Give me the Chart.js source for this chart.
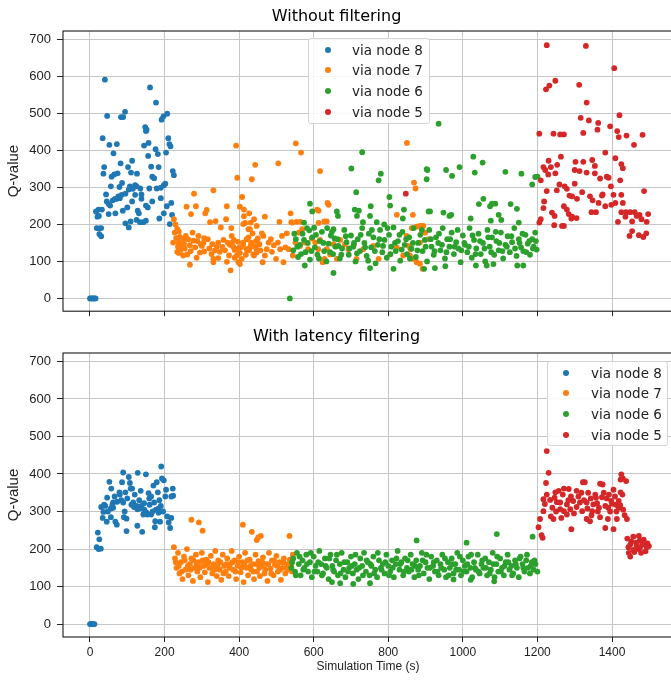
<!DOCTYPE html>
<html>
<head>
<meta charset="utf-8">
<script src="https://cdn.jsdelivr.net/npm/chart.js@4.4.0/dist/chart.umd.min.js"></script>
<style>
    body {margin: 0; width: 671px; height: 681px; overflow: hidden; background: #fff; position: relative;}
    canvas {position: absolute; left: 0;}
    #graficoSinFiltro {top: 0;}
    #graficoConFiltro {top: 325px;}
    .leyenda {position: absolute; background: rgba(255,255,255,0.85); border: 1px solid #d4d4d4; border-radius: 3px;
        font-family: "DejaVu Sans", sans-serif; font-size: 13.5px; color: #222; box-sizing: border-box;}
    .leyenda div {position: absolute; white-space: nowrap; line-height: 16px; height: 16px;}
    .leyenda span {position: absolute; top: 5px; width: 6px; height: 6px; border-radius: 50%;}
</style>
</head>
<body>
<canvas id="graficoSinFiltro" width="680" height="325"></canvas>
<canvas id="graficoConFiltro" width="680" height="356"></canvas>
<div class="leyenda" id="leyendaArriba" style="left:308px; top:38px; width:122px; height:86px;"></div>
<div class="leyenda" id="leyendaAbajo" style="left:547px; top:361px; width:121px; height:85px;"></div>
<script>
const etiquetas = ["via node 8", "via node 7", "via node 6", "via node 5"];
const colores = ["#1f77b4", "#ff7f0e", "#2ca02c", "#d62728"];
const xTicks = [0, 200, 400, 600, 800, 1000, 1200, 1400];
const yTicks = [0, 100, 200, 300, 400, 500, 600, 700];

// Without filtering: [time, Q-value]
const top8 = [[0,0],[3,0],[6,0],[9,0],[12,0],[15,0],[16,235],[18,190],[20,221],[23,240],[24,223],[25,189],[25,174],[30,190],[30,168],[32,240],[34,433],[36,337],[38,355],[40,591],[43,281],[45,262],[46,493],[50,255],[50,228],[52,415],[54,251],[56,303],[58,329],[61,265],[63,392],[65,335],[67,269],[68,230],[72,417],[72,269],[74,338],[76,276],[79,301],[80,271],[82,365],[83,490],[85,280],[86,312],[88,237],[89,490],[94,504],[95,283],[95,203],[100,246],[102,355],[104,294],[104,192],[107,303],[109,208],[110,340],[113,372],[113,262],[115,296],[121,306],[121,280],[125,303],[125,212],[126,337],[128,237],[131,230],[134,206],[135,297],[138,281],[138,269],[143,206],[145,413],[148,463],[150,452],[150,251],[150,210],[152,456],[155,246],[156,385],[157,420],[159,297],[161,570],[164,356],[167,329],[167,262],[172,325],[176,403],[177,529],[179,297],[182,390],[184,355],[186,216],[190,299],[190,271],[192,483],[197,492],[198,306],[198,230],[202,310],[204,394],[206,249],[207,499],[210,433],[213,417],[214,201],[216,411],[218,258],[220,226],[222,344],[225,333]];

const top7 = [[225,214],[229,200],[234,188],[238,181],[231,163],[241,166],[238,151],[250,160],[257,169],[245,142],[234,126],[254,135],[261,119],[268,144],[277,156],[275,178],[259,248],[271,228],[279,283],[284,249],[291,169],[297,147],[306,163],[309,230],[313,239],[320,135],[322,206],[328,147],[331,292],[335,130],[337,209],[344,151],[351,192],[355,139],[362,130],[367,249],[369,151],[373,116],[365,214],[379,190],[380,169],[384,140],[388,110],[393,133],[397,153],[398,98],[402,123],[407,107],[411,146],[413,222],[416,204],[420,160],[425,187],[427,130],[432,151],[436,176],[440,116],[443,140],[447,124],[450,162],[454,146],[268,91],[286,110],[331,98],[344,109],[367,99],[377,76],[402,93],[331,107],[306,127],[250,116],[238,123],[223,151],[227,178],
    [236,140],[243,131],[252,148],[263,160],[270,128],[282,138],[288,155],[295,124],[300,142],[304,150],[316,160],[326,120],[340,140],[348,126],[358,158],[375,145],[386,158],[405,138],[418,118],[430,140],[445,155],[457,130],
    [392,413],[395,326],[408,274],[402,248],[413,240],[434,322],[443,361],[505,365],[552,419],[566,394],[617,344],[637,258],[640,253],[613,237],[538,230],[469,221],[508,207],[427,230],[440,214],[431,205],[411,201],[628,208],[564,207],[554,207],[543,205],[850,420],[823,226],[866,226],[869,313],[873,297],[863,190],[876,194],[885,196],[894,196],[855,142],[866,107],[876,98],[892,80],[858,116],
    [381,151],[388,131],[394,116],[400,137],[411,151],[420,133],[425,165],[432,144],[438,119],[447,133],[454,147],[461,176],[463,98],[469,116],[474,133],[479,151],[485,160],[488,126],[493,144],[499,107],[504,151],[510,133],[515,169],[519,98],[524,138],[528,176],[533,133],[540,206],[544,116],[551,151],[560,178],[563,142],[569,187],[576,151],[585,133],[595,162],[604,151],[612,133],[617,158],[624,98],[629,107],[635,133],[644,119],[653,147],[662,107],[671,158],[684,146],[693,133],[708,146],[715,107],[733,133],[760,142],[774,107],[805,119],[823,137],[840,116],[849,169],[860,133],[872,107],[885,151],[899,178],[908,160],[609,240],[613,204],[635,208],[465,169],[429,187],[447,196],[887,196],[885,94]];

const top6 = [[536,0],[590,256],[596,235],[574,205],[588,184],[601,191],[662,235],[665,223],[653,187],[649,180],[701,351],[714,287],[730,395],[774,319],[780,337],[710,240],[721,237],[753,249],[716,223],[732,206],[751,223],[769,206],[789,200],[803,274],[805,251],[842,240],[839,216],[903,349],[903,322],[908,235],[814,80],[751,82],[653,69],[576,89],[935,472],[905,347],[955,347],[971,331],[991,355],[1028,383],[1053,367],[1032,340],[1114,342],[1157,337],[1186,308],[1194,328],[1200,329],[1055,269],[1043,255],[1073,249],[1078,256],[1087,256],[1128,255],[1145,242],[912,235],[948,232],[964,223],[969,226],[1021,216],[1075,210],[1096,226],[1103,212],[1150,205],[925,82],[953,87],[896,80],[1035,89],[1064,89],[1082,93],[1146,89],[1162,89],
    [545,130],[552,160],[558,112],[563,145],[570,175],[578,125],[584,150],[590,105],[596,165],[603,138],[610,118],[616,155],[622,180],[628,128],[634,100],[640,148],[646,170],[652,120],[658,140],[664,160],[670,108],[676,135],[682,185],[688,152],[694,118],[700,170],[706,140],[712,100],[718,160],[724,128],[730,190],[736,150],[742,115],[748,175],[754,138],[760,165],[766,95],[772,145],[778,185],[784,125],[790,158],[796,110],[802,172],[808,140],[814,192],[820,128],[826,155],[832,102],[838,180],[844,145],[850,120],[856,165],[862,135],[868,190],[874,112],[880,150],[886,172],[892,128],[898,158],[904,100],[910,185],[916,140],[922,118],[928,165],[934,150],[940,130],[946,190],[952,108],[958,160],[964,140],[970,178],[976,120],[982,152],[988,135],[994,98],[1000,170],[1006,145],[1012,125],[1018,190],[1024,110],[1030,158],[1036,135],[1042,175],[1048,120],[1054,150],[1060,100],[1066,185],[1072,140],[1078,165],[1084,118],[1090,155],[1096,130],[1102,178],[1108,108],[1114,145],[1120,168],[1126,125],[1132,152],[1138,190],[1144,115],[1150,160],[1156,138],[1162,128],[1168,172],[1174,148],[1180,118],[1186,160],[1190,140],[1194,178],[1198,132],
    [548,175],[556,140],[566,120],[574,158],[582,190],[594,128],[606,172],[614,108],[626,150],[636,190],[644,125],[656,162],[666,142],[674,118],[686,168],[696,135],[708,150],[716,122],[726,172],[738,138],[746,102],[756,185],[764,128],[776,160],[786,142],[798,190],[806,120],[818,150],[830,172],[836,132],[848,160],[858,108],[866,150],[878,130],[890,185],[900,140],[914,160],[924,128],[936,175],[944,145],[956,125],[966,160],[978,140],[986,185],[996,130],[1004,150],[1016,140],[1026,170],[1034,120],[1046,155],[1058,135],[1068,165],[1076,125],[1088,180],[1098,150],[1106,128],[1118,140],[1130,168],[1140,135],[1152,150],[1160,175],[1170,125],[1178,155],[1188,135],[1196,155]];

const top5 = [[847,283],[1225,684],[1330,682],[1406,622],[1223,565],[1232,575],[1248,588],[1312,577],[1332,529],[1316,488],[1338,481],[1363,474],[1361,456],[1395,465],[1420,495],[1205,445],[1243,445],[1261,443],[1271,443],[1323,447],[1414,452],[1418,436],[1439,440],[1482,442],[1459,415],[1263,383],[1230,372],[1216,355],[1221,347],[1209,319],[1236,355],[1253,361],[1248,338],[1229,335],[1302,369],[1323,369],[1347,374],[1354,358],[1382,394],[1409,379],[1425,363],[1429,352],[1300,347],[1313,344],[1332,340],[1354,338],[1368,324],[1386,329],[1391,326],[1422,319],[1397,303],[1259,308],[1273,303],[1300,310],[1320,287],[1341,276],[1375,281],[1404,280],[1425,280],[1486,290],[1225,290],[1252,292],[1279,296],[1286,278],[1293,276],[1306,269],[1348,265],[1373,278],[1398,253],[1218,262],[1216,244],[1209,214],[1205,205],[1239,232],[1246,223],[1271,249],[1279,240],[1305,217],[1293,221],[1284,228],[1345,233],[1357,233],[1364,258],[1382,249],[1409,258],[1429,258],[1416,207],[1425,233],[1438,233],[1449,233],[1461,233],[1466,223],[1474,226],[1479,214],[1497,228],[1493,207],[1454,208],[1436,221],[1447,169],[1454,182],[1472,171],[1484,166],[1492,176],[1245,198],[1266,196],[1271,196],[1291,216]];

// With latency filtering: [time, Q-value]
const bot8 = [[0,0],[3,0],[6,0],[9,0],[12,0],[18,205],[21,244],[23,200],[25,226],[29,201],[30,312],[34,283],[36,299],[41,315],[45,273],[46,337],[52,379],[56,308],[56,285],[57,361],[62,310],[62,324],[68,273],[72,265],[73,326],[79,351],[80,345],[86,378],[89,404],[89,324],[91,285],[95,351],[98,281],[98,248],[104,392],[107,376],[109,361],[113,361],[116,324],[118,312],[125,315],[127,306],[127,262],[128,403],[134,308],[136,355],[138,315],[140,246],[143,292],[145,322],[150,399],[152,297],[154,292],[157,349],[159,335],[164,292],[164,340],[170,369],[172,324],[174,258],[175,274],[177,305],[179,378],[182,351],[184,308],[184,297],[188,273],[190,315],[191,420],[193,388],[198,383],[204,358],[207,287],[211,271],[215,256],[218,340],[218,283],[222,361],[223,342],
    [38,318],[48,300],[60,318],[66,340],[84,330],[93,300],[100,335],[111,318],[120,345],[132,330],[146,305],[160,318],[168,300],[186,330],[196,300],[202,340]];

const bot7 = [[272,278],[292,271],[302,249],[410,265],[434,246],[451,231],[447,224],[458,235],[535,235],
    [225,205],[228,175],[232,150],[236,190],[240,135],[244,165],[248,120],[252,180],[256,145],[260,200],[264,130],[268,160],[272,175],[276,115],[280,150],[284,185],[288,140],[292,165],[296,125],[300,190],[304,155],[308,138],[312,172],[316,112],[320,150],[324,182],[328,135],[332,160],[336,195],[340,128],[344,170],[348,145],[352,118],[356,185],[360,155],[364,140],[368,175],[372,128],[376,160],[380,195],[384,145],[388,170],[392,120],[396,155],[400,180],[404,138],[408,165],[412,112],[416,190],[420,150],[424,130],[428,172],[432,145],[436,160],[440,120],[444,185],[448,140],[452,168],[456,128],[460,155],[464,178],[468,135],[472,160],[476,115],[480,190],[484,148],[488,170],[492,130],[496,158],[500,182],[504,140],[508,165],[512,118],[516,150],[520,175],[524,135],[528,160],[532,145],[536,172],[540,155],[544,185],
    [230,165],[238,155],[246,140],[254,170],[262,155],[270,145],[278,170],[286,160],[294,150],[302,170],[310,158],[318,165],[326,150],[334,145],[342,155],[350,165],[358,135],[366,160],[374,150],[382,165],[390,140],[398,165],[406,150],[414,160],[422,170],[430,155],[438,140],[446,160],[454,150],[462,165],[470,145],[478,160],[486,135],[494,170],[502,155],[510,145],[518,165],[526,150],[534,160],[542,140]];

const bot6 = [[876,223],[1091,240],[1187,233],[1010,217],[706,107],[751,109],[1084,114],[1021,118],[975,119],[649,112],[671,109],
    [540,150],[545,175],[550,140],[555,190],[560,160],[565,130],[570,170],[575,150],[580,185],[585,140],[590,165],[595,125],[600,180],[605,155],[610,140],[615,195],[620,160],[625,135],[630,175],[635,150],[640,120],[645,185],[650,155],[655,140],[660,170],[665,130],[670,160],[675,190],[680,145],[685,125],[690,165],[695,150],[700,180],[705,135],[710,160],[715,145],[720,120],[725,175],[730,155],[735,190],[740,140],[745,165],[750,130],[755,155],[760,180],[765,145],[770,125],[775,170],[780,150],[785,160],[790,135],[795,185],[800,155],[805,140],[810,170],[815,125],[820,160],[825,195],[830,145],[835,165],[840,130],[845,175],[850,150],[855,140],[860,185],[865,160],[870,125],[875,170],[880,145],[885,155],[890,190],[895,135],[900,165],[905,150],[910,120],[915,180],[920,155],[925,140],[930,170],[935,130],[940,160],[945,185],[950,145],[955,125],[960,165],[965,150],[970,175],[975,135],[980,160],[985,190],[990,145],[995,130],[1000,170],[1005,155],[1010,140],[1015,180],[1020,150],[1025,125],[1030,165],[1035,145],[1040,185],[1045,135],[1050,160],[1055,150],[1060,175],[1065,130],[1070,165],[1075,145],[1080,190],[1085,125],[1090,160],[1095,140],[1100,175],[1105,150],[1110,130],[1115,165],[1120,185],[1125,145],[1130,155],[1135,135],[1140,170],[1145,150],[1150,125],[1155,180],[1160,160],[1165,140],[1170,170],[1175,150],[1180,135],[1185,165],[1190,145],[1195,160],[1200,140],
    [542,165],[552,130],[562,180],[572,145],[582,160],[592,190],[602,140],[612,165],[622,130],[632,155],[642,175],[652,145],[662,185],[672,135],[682,165],[692,140],[702,155],[712,185],[722,150],[732,130],[742,170],[752,160],[762,135],[772,190],[782,145],[792,165],[802,130],[812,150],[822,175],[832,160],[842,140],[852,170],[862,145],[872,155],[882,130],[892,170],[902,185],[912,150],[922,165],[932,140],[942,150],[952,175],[962,130],[972,160],[982,145],[992,180],[1002,140],[1012,160],[1022,185],[1032,150],[1042,140],[1052,170],[1062,150],[1072,135],[1082,160],[1092,180],[1102,140],[1112,155],[1122,165],[1132,130],[1142,160],[1152,175],[1162,150],[1172,185],[1182,155],[1192,170]];

const bot5 = [[1225,461],[1230,403],[1223,376],[1425,399],[1429,388],[1438,381],[1423,385],[1322,378],[1327,378],[1368,374],[1375,372],[1404,358],[1423,351],[1305,355],[1284,360],[1271,361],[1257,355],[1248,351],[1225,345],[1216,333],[1234,331],[1246,337],[1261,324],[1279,319],[1296,328],[1314,324],[1332,324],[1343,335],[1357,337],[1373,338],[1386,335],[1398,328],[1418,328],[1350,319],[1365,310],[1382,315],[1400,321],[1418,310],[1422,317],[1261,306],[1271,301],[1288,306],[1305,312],[1320,301],[1334,308],[1347,301],[1216,301],[1207,280],[1203,258],[1211,237],[1214,230],[1236,287],[1243,280],[1264,283],[1279,292],[1291,253],[1332,280],[1341,274],[1368,285],[1382,256],[1389,280],[1404,253],[1413,280],[1434,290],[1440,280],
    [1220,320],[1240,310],[1250,300],[1268,345],[1290,340],[1298,295],[1310,340],[1318,350],[1336,350],[1345,290],[1355,345],[1362,300],[1378,350],[1392,345],[1395,300],[1408,340],[1412,300],[1428,345],[1430,305],[1252,325],[1283,330],[1325,330],[1360,322],[1390,310],[1410,318],
    [1441,228],[1457,233],[1472,235],[1475,223],[1449,212],[1466,209],[1486,217],[1493,205],[1445,190],[1457,198],[1475,203],[1490,194],[1449,180],[1499,208],[1465,217],[1481,212],[1452,220],[1470,200],[1485,225],[1460,192],[1478,190],[1495,215],[1444,205]];

const familia = "'Liberation Sans', Arial, sans-serif";
const fuente = {family: familia, size: 12};

// Frame around the plotting area (matplotlib spines)
const marco = {
    id: "marco",
    afterDraw(chart) {
        const {ctx, chartArea: a} = chart;
        ctx.save();
        ctx.strokeStyle = "#1a1a1a";
        ctx.lineWidth = 1.1;
        ctx.strokeRect(a.left, a.top, a.right - a.left, a.bottom - a.top);
        ctx.restore();
    }
};

function armarDatasets(series) {
    return series.map((puntos, i) => ({
        label: etiquetas[i],
        data: puntos.map(p => ({x: p[0], y: p[1]})),
        backgroundColor: colores[i],
        pointRadius: 2.9,
        pointHoverRadius: 2.9,
        pointBorderWidth: 0,
        order: series.length - i
    }));
}

function opciones(titulo, paddingTitulo, mostrarX, altoX) {
    return {
        responsive: false,
        animation: false,
        devicePixelRatio: 1,
        layout: {padding: {left: 0, right: 7, top: 0, bottom: 0}},
        plugins: {
            legend: {display: false},
            tooltip: {enabled: false},
            title: {
                display: true, text: titulo, color: "#000",
                font: {family: "'DejaVu Sans', sans-serif", size: 16, weight: "normal"},
                padding: paddingTitulo
            }
        },
        scales: {
            x: {
                type: "linear", min: -72.4, max: 1563.6,
                afterBuildTicks: s => { s.ticks = xTicks.map(v => ({value: v})); },
                afterFit: s => { s.height = altoX; },
                grid: {color: "#c6c6c6", lineWidth: 1, tickColor: "#222", tickLength: 5},
                border: {display: false},
                ticks: {display: mostrarX, color: "#222", font: fuente, padding: 3, maxRotation: 0, autoSkip: false,
                    callback: v => String(v)},
                title: {display: mostrarX, text: "Simulation Time (s)", color: "#222", font: fuente, padding: {top: 0, bottom: 7}}
            },
            y: {
                type: "linear", min: -34.4, max: 722.4,
                afterBuildTicks: s => { s.ticks = yTicks.map(v => ({value: v})); },
                afterFit: s => { s.width = 63; },
                grid: {color: "#c6c6c6", lineWidth: 1, tickColor: "#222", tickLength: 6},
                border: {display: false},
                ticks: {color: "#222", font: {family: familia, size: 13}, padding: 6, callback: v => String(v)},
                title: {display: true, text: "Q-value", color: "#222", font: {family: familia, size: 15}, padding: {top: 5, bottom: 0}}
            }
        }
    };
}

function armarLeyenda(id, xMarca) {
    const caja = document.getElementById(id);
    const filas = [3, 23, 44, 65];
    etiquetas.forEach((texto, i) => {
        const fila = document.createElement("div");
        fila.style.top = filas[i] + "px";
        fila.style.left = "0px";
        fila.innerHTML = `<span style="left:${xMarca - 3}px; background:${colores[i]}"></span><b style="font-weight:normal; position:absolute; left:43px;">${texto}</b>`;
        caja.appendChild(fila);
    });
}

new Chart(document.getElementById("graficoSinFiltro"), {
    type: "scatter",
    data: {datasets: armarDatasets([top8, top7, top6, top5])},
    options: opciones("Without filtering", {top: 7, bottom: 4.8}, false, 12),
    plugins: [marco]
});

new Chart(document.getElementById("graficoConFiltro"), {
    type: "scatter",
    data: {datasets: armarDatasets([bot8, bot7, bot6, bot5])},
    options: opciones("With latency filtering", {top: 2.4, bottom: 6.4}, true, 44),
    plugins: [marco]
});

armarLeyenda("leyendaArriba", 19);
armarLeyenda("leyendaAbajo", 18);
</script>
</body>
</html>
